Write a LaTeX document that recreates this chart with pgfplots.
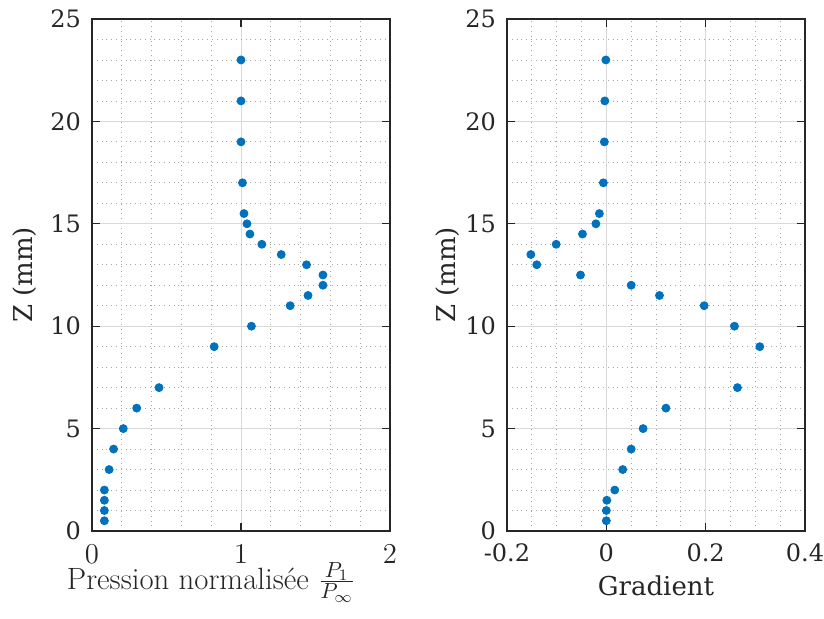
\documentclass[border=0pt]{standalone}
\usepackage{fontspec}
\setmainfont{DejaVu Serif}
\newfontfamily\lmfont{Latin Modern Roman}
\usepackage{pgfplots}
\pgfplotsset{compat=1.18}
\definecolor{mblue}{rgb}{0,0.447,0.741}
\definecolor{axgray}{rgb}{0.15,0.15,0.15}
\pgfplotsset{
  mystyle/.style={
    scale only axis, width=149pt, height=256pt,
    ymin=0, ymax=25, ytick={0,5,...,25},
    minor y tick num=4,
    grid=both,
    major grid style={line width=0.4pt, color=black!15},
    minor grid style={line width=0.4pt, dotted, color=black!35},
    tick align=inside,
    major tick length=4pt, minor tick length=0pt,
    axis line style={axgray, line width=0.6pt},
    every tick/.style={axgray, line width=0.6pt},
    tick label style={font=\fontsize{12}{14}\selectfont, text=axgray},
    label style={font=\fontsize{13}{15}\selectfont, text=axgray},
    /pgf/number format/assume math mode=true,
    ylabel={Z (mm)},
    yticklabel style={xshift=-2pt},
  }
}
\begin{document}
\begin{tikzpicture}
\begin{axis}[mystyle, at={(0pt,0pt)}, anchor=south west,
  xmin=0, xmax=2, xtick={0,1,2}, xticklabels={$0$,$1$,$2$},
  minor x tick num=4,
  xticklabel style={font=\fontsize{13.5}{16}\selectfont, yshift=-7pt, inner ysep=0pt},
  xlabel={\lmfont\fontsize{15.4}{17}\selectfont Pression normalisée $\frac{P_1}{P_\infty}$},
  xlabel style={yshift=1pt, xshift=-15pt, inner ysep=0pt},
]
\addplot[only marks, mark=*, mark size=2pt, color=mblue] coordinates {
(0.083,0.5)(0.083,1)(0.083,1.5)(0.083,2)(0.115,3)(0.145,4)(0.21,5)(0.30,6)(0.45,7)(0.82,9)(1.07,10)(1.33,11)(1.45,11.5)(1.55,12)(1.55,12.5)(1.44,13)(1.27,13.5)(1.14,14)(1.06,14.5)(1.04,15)(1.02,15.5)(1.01,17)(1.0,19)(1.0,21)(1.0,23)
};
\end{axis}
\begin{axis}[mystyle, at={(207.5pt,0pt)}, anchor=south west,
  xmin=-0.2, xmax=0.4, xtick={-0.2,0,0.2,0.4}, xticklabels={-0.2,0,0.2,0.4},
  minor x tick num=3,
  xticklabel style={yshift=-3pt},
  xlabel={Gradient},
  ylabel style={yshift=-4pt},
]
\addplot[only marks, mark=*, mark size=2pt, color=mblue] coordinates {
(0,0.5)(0,1)(0.001,1.5)(0.017,2)(0.033,3)(0.05,4)(0.074,5)(0.12,6)(0.264,7)(0.309,9)(0.258,10)(0.197,11)(0.107,11.5)(0.05,12)(-0.052,12.5)(-0.14,13)(-0.152,13.5)(-0.101,14)(-0.048,14.5)(-0.021,15)(-0.014,15.5)(-0.006,17)(-0.004,19)(-0.003,21)(-0.001,23)
};
\end{axis}
\pgfresetboundingbox
\path[use as bounding box] (-46pt,-44pt) rectangle (366pt,265.5pt);
\end{tikzpicture}
\end{document}
